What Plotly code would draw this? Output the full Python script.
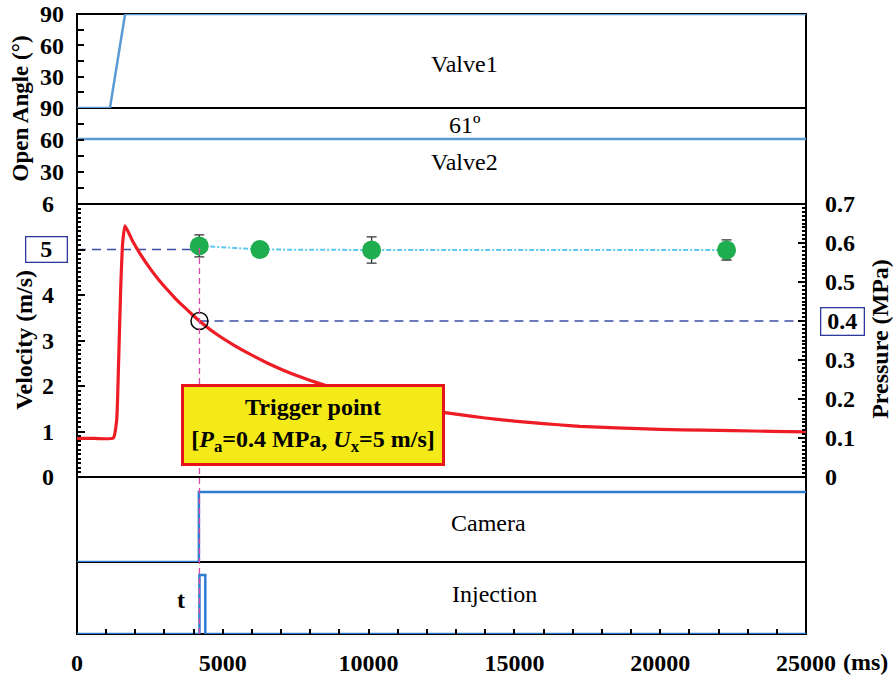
import plotly.graph_objects as go

# ---------------- data ----------------
time_valve1 = [0, 1130, 1650, 25000]
angle_valve1 = [0, 0, 90, 90]
time_valve2 = [0, 25000]
angle_valve2 = [61, 61]

time_pressure = [0, 600, 1245, 1360, 1417, 1497, 1566, 1646, 1900, 2160, 2503, 2800,
                 3076, 3360, 3645, 3930, 4218, 4790, 5360, 5932, 6505, 7075, 7647, 8220,
                 8900, 9500, 10200, 11000, 11800, 12620, 13500, 14500, 15500, 16500, 17250,
                 18500, 20000, 21500, 22500, 23800, 25000]
pressure = [0.099, 0.099, 0.100, 0.146, 0.267, 0.480, 0.600, 0.644, 0.606, 0.573, 0.535, 0.506,
            0.482, 0.459, 0.438, 0.418, 0.399, 0.366, 0.339, 0.315, 0.293, 0.274, 0.257, 0.242,
            0.226, 0.213, 0.199, 0.185, 0.174, 0.165, 0.156, 0.147, 0.140, 0.134, 0.130,
            0.126, 0.122, 0.120, 0.119, 0.117, 0.116]

time_velocity = [4193, 6275, 10103, 22275]
velocity = [5.08, 5.00, 4.99, 4.99]
velocity_err = [0.24, 0.12, 0.29, 0.22]

time_camera = [0, 4180, 4180, 25000]
camera_state = [0, 0, 1, 1]
time_injection = [0, 4200, 4200, 4400, 4400, 25000]
injection_state = [0, 0, 1, 1, 0, 0]

t_trigger = 4200
p_trigger = 0.4
v_trigger = 5

x_ticks = [0, 5000, 10000, 15000, 20000, 25000]
vel_ticks = [0, 1, 2, 3, 4, 5, 6]
pres_ticks = [0, 0.1, 0.2, 0.3, 0.4, 0.5, 0.6, 0.7]
valve_ticks = [0, 15, 30, 45, 60, 75, 90]

# ---------------- styling ----------------
FONT = "Liberation Serif, Times New Roman, serif"
VALVE_BLUE = "#5b9bd5"
SIG_BLUE = "#2e7dd1"
RED = "#ee1c25"
GREEN = "#1fae4f"
DASH_BLUE = "#3c4ea6"
LIGHT_BLUE = "#5ccaf0"
MAGENTA = "#d94aa8"

# domains (paper fractions)
D1 = [0.8484, 1.0]
D2 = [0.6935, 0.8484]
D3 = [0.2532, 0.6935]
D5 = [0.1161, 0.2532]
D6 = [0.0, 0.1161]

fig = go.Figure()

# valves
fig.add_trace(go.Scatter(x=time_valve1, y=angle_valve1, mode="lines",
                         line=dict(color=VALVE_BLUE, width=2.5), xaxis="x", yaxis="y"))
fig.add_trace(go.Scatter(x=time_valve2, y=angle_valve2, mode="lines",
                         line=dict(color=VALVE_BLUE, width=2.5), xaxis="x", yaxis="y2"))

# dashed guide lines
fig.add_trace(go.Scatter(x=[0, time_velocity[0]], y=[v_trigger, v_trigger], mode="lines",
                         line=dict(color=DASH_BLUE, width=1.4, dash="9px,6px"), xaxis="x", yaxis="y3"))
fig.add_trace(go.Scatter(x=[t_trigger, 25000], y=[p_trigger, p_trigger], mode="lines",
                         line=dict(color=DASH_BLUE, width=1.4, dash="9px,6px"), xaxis="x", yaxis="y4"))

# pressure curve
fig.add_trace(go.Scatter(x=time_pressure, y=pressure, mode="lines",
                         line=dict(color=RED, width=3.2, shape="spline", smoothing=0.5),
                         xaxis="x", yaxis="y4"))

# trigger circle
fig.add_trace(go.Scatter(x=[t_trigger], y=[p_trigger], mode="markers",
                         marker=dict(symbol="circle-open", size=17, color="black",
                                     line=dict(color="black", width=1.5)),
                         xaxis="x", yaxis="y4"))

# velocity dotted line + points
fig.add_trace(go.Scatter(x=time_velocity, y=velocity, mode="lines",
                         line=dict(color=LIGHT_BLUE, width=2, dash="5px,2px,2px,2px"),
                         xaxis="x", yaxis="y3"))
fig.add_trace(go.Scatter(x=time_velocity, y=velocity, mode="markers",
                         marker=dict(size=19, color=GREEN),
                         error_y=dict(type="data", array=velocity_err, color="#333333",
                                      thickness=1.3, width=5),
                         xaxis="x", yaxis="y3"))

# camera & injection
fig.add_trace(go.Scatter(x=time_camera, y=camera_state, mode="lines",
                         line=dict(color=SIG_BLUE, width=2.5), xaxis="x", yaxis="y5"))
fig.add_trace(go.Scatter(x=time_injection, y=injection_state, mode="lines",
                         line=dict(color=SIG_BLUE, width=2.5), xaxis="x", yaxis="y6"))

tickfont = dict(family=FONT, size=24, color="black", weight="bold")

def yax(domain, rng, **kw):
    d = dict(domain=domain, range=rng, anchor="x", showgrid=False, zeroline=False,
             showline=False, tickfont=tickfont, ticks="inside", tickcolor="black",
             tickwidth=2, automargin=False)
    d.update(kw)
    return d

vel_text = [str(v) if v != v_trigger else "" for v in vel_ticks]
pres_text = ["0" if p == 0 else ("" if p == p_trigger else f"{p:.1f}") for p in pres_ticks]
valve_text = ["" if a in (0, 15, 45, 75) else str(a) for a in valve_ticks]

fig.update_layout(
    template="none",
    width=893, height=678,
    margin=dict(l=77, r=87, t=14, b=44, autoexpand=False),
    paper_bgcolor="white", plot_bgcolor="white",
    showlegend=False,
    font=dict(family=FONT, color="black"),
    xaxis=dict(domain=[0, 1], range=[0, 25000], anchor="y6", showgrid=False, zeroline=False,
               showline=False, tickvals=x_ticks, ticktext=[str(v) for v in x_ticks],
               ticks="inside", ticklen=5, tickwidth=2, tickcolor="black", tickfont=tickfont,
               minor=dict(ticks="inside", dtick=1000, ticklen=5, tickwidth=2, tickcolor="black"),
               ticklabelstandoff=12, automargin=False),
    yaxis=yax(D1, [0, 90], tickvals=valve_ticks, ticktext=valve_text, ticklen=7,
              ticklabelstandoff=12),
    yaxis2=yax(D2, [0, 90], tickvals=valve_ticks, ticktext=valve_text, ticklen=7,
               ticklabelstandoff=12),
    yaxis3=yax(D3, [0, 6], tickvals=vel_ticks, ticktext=vel_text, ticklen=8,
               ticklabelstandoff=22,
               minor=dict(ticks="inside", dtick=0.1, ticklen=4, tickwidth=1.5, tickcolor="black")),
    yaxis4=yax(D3, [0, 0.7], overlaying="y3", side="right", tickvals=pres_ticks,
               ticktext=pres_text, ticklen=8, ticklabelstandoff=18,
               minor=dict(ticks="inside", dtick=0.01, ticklen=4, tickwidth=1.5, tickcolor="black")),
    yaxis5=yax(D5, [0, 1.214], showticklabels=False, ticks=""),
    yaxis6=yax(D6, [0, 1.22], showticklabels=False, ticks=""),
)

# panel borders
for ref in ["y", "y2", "y3", "y5", "y6"]:
    fig.add_shape(type="rect", xref="x domain", yref=f"{ref} domain", x0=0, x1=1, y0=0, y1=1,
                  line=dict(color="black", width=2), layer="below")

# magenta vertical trigger line
y_top = D3[0] + (velocity[0] / 6) * (D3[1] - D3[0])
fig.add_shape(type="line", xref="x", yref="paper", x0=t_trigger, x1=t_trigger, y0=0, y1=y_top,
              line=dict(color=MAGENTA, width=1.3, dash="6px,4px"), layer="above")

def ann(text, x, y, xref, yref, size=24, bold=False, **kw):
    fig.add_annotation(text=text, x=x, y=y, xref=xref, yref=yref, showarrow=False,
                       xanchor="center", yanchor="middle",
                       font=dict(family=FONT, size=size, color="black",
                                 weight="bold" if bold else "normal"), **kw)

ann("Valve1", 13300, 42, "x", "y")
ann("61º", 13300, 74, "x", "y2")
ann("Valve2", 13300, 39, "x", "y2")
ann("Camera", 14100, 0.56, "x", "y5")
ann("Injection", 14330, 0.68, "x", "y6")
ann("t", 3560, 0.58, "x", "y6", bold=True)

# trigger box
ann("Trigger point<br>[<i>P</i><sub>a</sub>=0.4 MPa, <i>U</i><sub>x</sub>=5 m/s]",
    8100, 1.14, "x", "y3", bold=True, bgcolor="#f3ea17", bordercolor="#e8141c",
    borderwidth=3, borderpad=2, width=254, height=72)

# boxed tick labels
ann("5", -0.0418, 5, "paper", "y3", size=24, bold=True, bordercolor="#2b3a9c",
    borderwidth=1.3, width=38, height=22, borderpad=1)
ann("0.4", 1.0494, 0.4, "paper", "y4", size=24, bold=True, bordercolor="#2b3a9c",
    borderwidth=1.3, width=40, height=24, borderpad=1)

# axis titles
ann("Open Angle (°)", -0.078, 0.848, "paper", "paper", size=23, bold=True, textangle=-90)
ann("Velocity (m/s)", -0.072, 0.474, "paper", "paper", size=24, bold=True, textangle=-90)
ann("Pressure (MPa)", 1.1015, 0.476, "paper", "paper", size=24, bold=True, textangle=-90)
ann("(ms)", 1.081, -0.045, "paper", "paper", size=24, bold=True)

fig.write_html("out.html")
